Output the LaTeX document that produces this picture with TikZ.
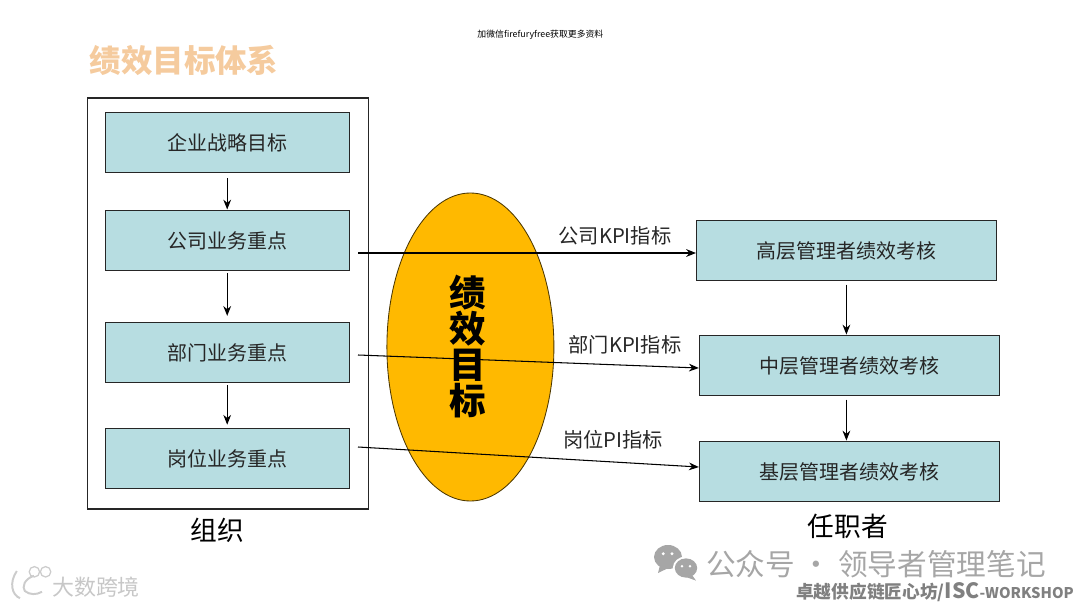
\documentclass[tikz,border=0pt]{standalone}
\usepackage{fontspec}
\setmainfont{Noto Sans CJK SC}
\usepackage{xcolor}
\usetikzlibrary{arrows.meta, positioning, calc, shapes.geometric}
\definecolor{boxcolor}{HTML}{B7DDE1}
\definecolor{titlecolor}{HTML}{F5CB9E}
\definecolor{goalcolor}{HTML}{FFB900}
\definecolor{inkcolor}{HTML}{262626}
\definecolor{markcolor}{HTML}{A6A6A6}
\newcommand{\fs}[1]{\fontsize{#1}{#1}\selectfont}
\begin{document}
\begin{tikzpicture}[
  every node/.style={text=inkcolor},
  box/.style={draw=black!85, line width=0.7pt, fill=boxcolor, minimum width=6.1cm,
              minimum height=1.5cm, align=center, font=\fs{14.2}, text height=14pt, text depth=1.7pt},
  rbox/.style={box, minimum width=7.5cm},
  lab/.style={font=\fs{14.4}},
  captext/.style={font=\fs{19}, text=black},
  arr/.style={-{Stealth[length=7pt, width=5.5pt]}, line width=0.75pt, black}
]
  \useasboundingbox (0,0) rectangle (27,15.175);
  \node[font=\fs{22.4}\bfseries, text=titlecolor] (title) at (4.6,13.675) {绩效目标体系};
  \node[font=\fs{6.3}, text=black] (note) at (13.51,14.3) {加微信firefuryfree获取更多资料};
  \node[draw=black!85, line width=0.85pt, minimum width=7.025cm, minimum height=10.275cm] (org) at (5.69,7.5875) {};
  \node[box] (A) at (5.68,11.625) {企业战略目标};
  \node[box] (B) at (5.68,9.175) {公司业务重点};
  \node[box] (C) at (5.68,6.375) {部门业务重点};
  \node[box] (D) at (5.68,3.725) {岗位业务重点};
  \node[rbox] (R1) at (21.16,8.925) {高层管理者绩效考核};
  \node[rbox] (R2) at (21.24,6.05) {中层管理者绩效考核};
  \node[rbox] (R3) at (21.24,3.4) {基层管理者绩效考核};
  \node[ellipse, draw=black!70!goalcolor, line width=0.6pt, fill=goalcolor, minimum width=4.175cm, minimum height=7.7cm,
        inner sep=0pt] (goal) at (11.76,6.5) {};
  \node[align=center, font=\fs{26}\bfseries, text=black, inner sep=0pt] (goaltext) at (11.69,6.52)
        {绩\\[-0.4pt]效\\[-0.4pt]目\\[-0.4pt]标};
  \coordinate (Bout) at (8.95,8.85);
  \coordinate (Cout) at (8.95,6.3);
  \coordinate (Dout) at (8.95,4);
  \coordinate (R1in) at (17.4,8.85);
  \coordinate (R2in) at (17.47,5.975);
  \coordinate (R3in) at (17.47,3.5);
  \draw[arr, shorten <=4pt] (A) -- (B);
  \draw[arr, shorten <=2pt, shorten >=4pt] (B) -- (C);
  \draw[arr, shorten <=2pt, shorten >=2pt] (C) -- (D);
  \draw[arr, shorten <=3pt] (R1) -- (R1|-R2.north);
  \draw[arr, shorten <=3pt] (R1|-R2.south) -- (R1|-R3.north);
  \draw[arr] (Bout) -- (R1in);
  \draw[arr] (Cout) -- (R2in);
  \draw[arr] (Dout) -- (R3in);
  \node[lab] (kpi1) at (15.375,9.275) {公司KPI指标};
  \node[lab] (kpi2) at (15.625,6.55) {部门KPI指标};
  \node[lab] (pi3) at (15.325,4.175) {岗位PI指标};
  \node[captext] (zuzhi) at (5.44,1.925) {组织};
  \node[captext] (renzhi) at (21.2,2.025) {任职者};
  % watermarks
  \fill[markcolor] (16.7,1.25) ellipse (0.35 and 0.3);
  \fill[markcolor] (16.5,1.05) -- (16.45,0.85) -- (16.72,0.98) -- cycle;
  \fill[white] (17.15,0.975) ellipse (0.33 and 0.29);
  \fill[markcolor] (17.15,0.975) ellipse (0.28 and 0.24);
  \fill[markcolor] (17.3,0.8) -- (17.4,0.66) -- (17.12,0.76) -- cycle;
  \fill[white] (16.58,1.33) circle (0.04) (16.8,1.33) circle (0.04) (17.05,1.02) circle (0.035) (17.25,1.02) circle (0.035);
  \node[font=\fs{21.1}, text=markcolor] (wechat) at (21.9,1.075) {公众号 · 领导者管理笔记};
  \draw[black!20, line width=1.4pt] (0.42,0.9) .. controls (0.22,0.6) and (0.3,0.3) .. (0.5,0.22)
    (0.85,0.78) .. controls (0.6,0.7) and (0.55,0.5) .. (0.62,0.4) .. controls (0.75,0.3) and (0.9,0.3) .. (1.05,0.38);
  \draw[black!20, line width=0.9pt] (0.86,0.88) circle (0.13) (1.14,0.88) circle (0.13);
  \node[font=\fs{15.6}, text=black!22] (dashuju) at (2.4,0.5) {大数跨境};
  \node[font=\fs{12.6}\bfseries, text=black!50, inner sep=0pt] (isc) at (23.375,0.375)
       {卓越供应链匠心坊/\fs{15}ISC\fs{10.5}-WORKSHOP};
\end{tikzpicture}
\end{document}
